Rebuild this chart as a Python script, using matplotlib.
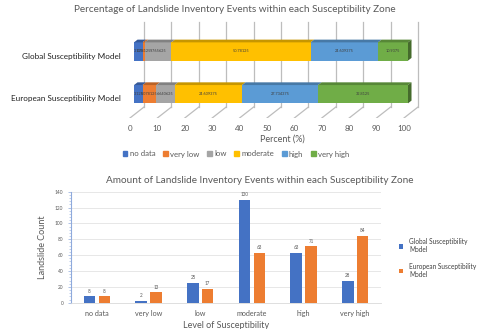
import numpy as np
import matplotlib.pyplot as plt
from matplotlib.patches import Polygon, Patch
from matplotlib.colors import to_rgb

plt.rcParams['font.family'] = ['Lato', 'DejaVu Sans']

# susceptibility zones and landslide counts per model
zones = ["no data", "very low", "low", "moderate", "high", "very high"]
global_counts = [8, 2, 25, 130, 63, 28]
european_counts = [8, 13, 17, 63, 71, 84]
models = ["European Susceptibility Model", "Global Susceptibility Model"]
zone_colors = ["#4472C4", "#ED7D31", "#A5A5A5", "#FFC000", "#5B9BD5", "#70AD47"]
pct_ticks = [0, 10, 20, 30, 40, 50, 60, 70, 80, 90, 100]
count_ticks = [0, 20, 40, 60, 80, 100, 120, 140]

W, H = 480, 329
fig = plt.figure(figsize=(W / 100, H / 100), dpi=100)
grey = "#595959"


def px_axes(left, top, right, bottom):
    return fig.add_axes([left / W, 1 - bottom / H, (right - left) / W, (bottom - top) / H])


def shade(c, f):
    r, g, b = to_rgb(c)
    return (r * f, g * f, b * f)


# ---------- stacked 3D percentage bars ----------
ax1 = px_axes(125, 15, 440, 118)
ax1.set_xlim((125 - 134) / 2.74, (440 - 134) / 2.74)
ax1.set_ylim((94.2 - 118) / 42.7, (94.2 - 15) / 42.7)
for s in ax1.spines.values():
    s.set_visible(False)

front_off = -1.46          # front floor edge relative to bar front
back_off = 3.65            # back wall relative to bar front
floor_front, floor_back = -0.557, -0.30
wall_top = 1.69
for v in pct_ticks:
    ax1.plot([v + back_off, v + back_off], [floor_back, wall_top], color="#BDBDBD", lw=0.9, zorder=2)
    ax1.plot([v + front_off, v + back_off], [floor_front, floor_back], color="#BDBDBD", lw=0.9, zorder=2)

half = 0.214
ddx, ddy = 1.28, 0.064
for yc, counts in zip([0, 1], [european_counts, global_counts]):
    total = sum(counts)
    pct = [100 * c / total for c in counts]
    left = 0.0
    for i, (p, col) in enumerate(zip(pct, zone_colors)):
        right = left + p
        ax1.barh(yc, p, left=left, height=2 * half, color=col, zorder=3)
        top = yc + half
        ax1.add_patch(Polygon([(left, top), (right, top), (right + ddx, top + ddy), (left + ddx, top + ddy)],
                              closed=True, color=shade(col, 0.78), zorder=3, lw=0))
        if i == len(pct) - 1:
            bot = yc - half
            ax1.add_patch(Polygon([(right, bot), (right, top), (right + ddx, top + ddy), (right + ddx, bot + ddy)],
                                  closed=True, color=shade(col, 0.62), zorder=3, lw=0))
        ax1.text(left + p / 2, yc, str(round(p, 6)), ha="center", va="center", fontsize=2.8,
                 color="#404040", zorder=4)
        left = right

ax1.set_xticks([v + front_off for v in pct_ticks], [str(v) for v in pct_ticks])
ax1.tick_params(axis="x", length=0, pad=5, labelsize=5.8, labelcolor=grey)
ax1.set_yticks([-0.1, 0.9], models)
ax1.tick_params(axis="y", length=0, pad=3, labelsize=5.9, labelcolor="#222222")
ax1.set_xlabel("Percent (%)", fontsize=6.5, color=grey, labelpad=2)
fig.text(235 / W, 1 - 10 / H, "Percentage of Landslide Inventory Events within each Susceptibility Zone",
         ha="center", va="center", fontsize=7.2, color=grey)

handles = [Patch(color=c, label=z) for z, c in zip(zones, zone_colors)]
fig.legend(handles=handles, loc="center", bbox_to_anchor=(236 / W, 1 - 154 / H), ncol=6, frameon=False,
           fontsize=5.6, handlelength=0.6, handleheight=0.6, handletextpad=0.3, columnspacing=1.0,
           labelcolor=grey)

# ---------- grouped count bars ----------
ax2 = px_axes(71, 191.7, 381, 302.7)
x = np.arange(len(zones))
w = 0.225
b1 = ax2.bar(x - 0.14, global_counts, w, color="#4472C4", zorder=3,
             label="Global Susceptibility\nModel")
b2 = ax2.bar(x + 0.145, european_counts, w, color="#ED7D31", zorder=3,
             label="European Susceptibility\nModel")
for bars in (b1, b2):
    ax2.bar_label(bars, fontsize=3.3, color=grey, padding=2)

ax2.set_xlim(-0.5, len(zones) - 0.5)
ax2.set_ylim(0, 140)
ax2.set_yticks(count_ticks)
ax2.set_yticks(np.arange(0, 141, 4), minor=True)
ax2.grid(axis="y", color="#E3E3E3", lw=0.6, zorder=0)
ax2.set_xticks(x, zones)
ax2.tick_params(axis="x", length=0, pad=5, labelsize=5.2, labelcolor=grey)
ax2.tick_params(axis="y", which="major", length=2.5, width=0.5, color="#8FAADC", pad=3,
                labelsize=3.4, labelcolor=grey)
ax2.tick_params(axis="y", which="minor", length=1.5, width=0.4, color="#8FAADC")
for side in ("top", "right"):
    ax2.spines[side].set_visible(False)
ax2.spines["left"].set_color("#8FAADC")
ax2.spines["left"].set_linewidth(0.8)
ax2.spines["bottom"].set_color("#D9D9D9")
ax2.spines["bottom"].set_linewidth(0.6)
ax2.set_ylabel("Landslide Count", fontsize=6.5, color=grey, labelpad=6)
ax2.set_xlabel("Level of Susceptibility", fontsize=6.5, color=grey, labelpad=3)
ax2.set_title("Amount of Landslide Inventory Events within each Susceptibility Zone",
              fontsize=7.2, color=grey, pad=6, x=0.61)
ax2.legend(loc="center left", bbox_to_anchor=(393 / W, 1 - 258 / H), bbox_transform=fig.transFigure,
           frameon=False, fontsize=4.7, handlelength=0.7, handleheight=0.7, handletextpad=0.9,
           labelspacing=1.4, labelcolor="#404040")

fig.savefig("out.png", dpi=100)
